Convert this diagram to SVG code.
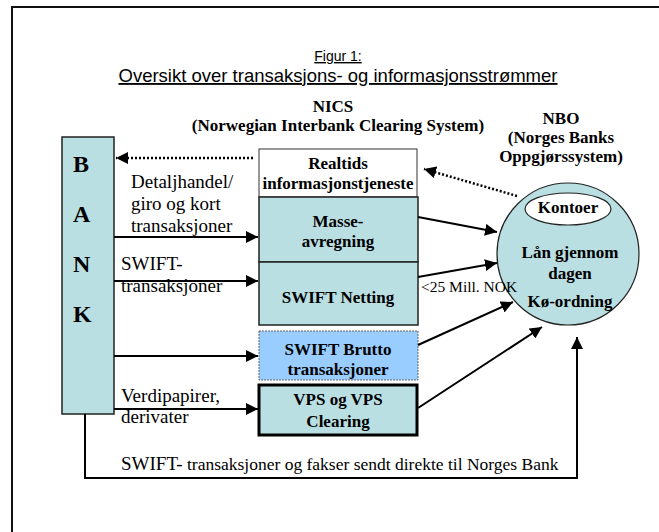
<svg xmlns="http://www.w3.org/2000/svg" width="659" height="532" viewBox="0 0 659 532">
<defs>
<marker id="ah" markerUnits="userSpaceOnUse" markerWidth="13" markerHeight="12" refX="12" refY="6" orient="auto"><path d="M0,0 L12,6 L0,12 z" fill="#000"/></marker>
</defs>
<style>
text{font-family:"Liberation Serif","Times New Roman",serif;fill:#000}
.a{font-family:"Liberation Sans",Arial,sans-serif;text-anchor:middle;text-decoration:underline}
.b{font-weight:bold;font-size:17px;text-anchor:middle}
.r{font-size:19px}
.bk{font-weight:bold;font-size:24px}
.box{fill:#BADFE3;stroke:#222;stroke-width:1.5}
.c{stroke:#000;stroke-width:2;fill:none;marker-end:url(#ah)}
.d{stroke:#000;stroke-width:2.5;fill:none;stroke-dasharray:2 2;marker-end:url(#ah)}
</style>
<rect x="12" y="7" width="680" height="560" fill="none" stroke="#111" stroke-width="2"/>
<g id="title">
<text class="a" x="338" y="61" font-size="14">Figur 1:</text>
<text class="a" x="338" y="82" font-size="18.5">Oversikt over transaksjons- og informasjonsstrømmer</text>
</g>
<g id="nics-label">
<text class="b" x="333" y="112" font-size="17.5">NICS</text>
<text class="b" x="338" y="131" font-size="17.5">(Norwegian Interbank Clearing System)</text>
</g>
<g id="nbo-label">
<text class="b" x="561" y="124" font-size="17.5">NBO</text>
<text class="b" x="561" y="143" font-size="17.5">(Norges Banks</text>
<text class="b" x="561" y="162" font-size="17.5">Oppgjørssystem)</text>
</g>
<g id="bank">
<rect class="box" x="62" y="137" width="52" height="277"/>
<text class="bk" x="73" y="172">B</text>
<text class="bk" x="73" y="222">A</text>
<text class="bk" x="73" y="272">N</text>
<text class="bk" x="73" y="322">K</text>
</g>
<g id="realtids">
<rect x="259" y="149" width="158" height="48" fill="#fff" stroke="#333" stroke-width="1"/>
<text class="b" x="338" y="169">Realtids</text>
<text class="b" x="338" y="189">informasjonstjeneste</text>
</g>
<g id="masse">
<rect class="box" x="259" y="197" width="159" height="65"/>
<text class="b" x="338" y="227">Masse-</text>
<text class="b" x="338" y="247">avregning</text>
</g>
<g id="netting">
<rect class="box" x="259" y="262" width="159" height="63"/>
<text class="b" x="338" y="303" font-size="15.5">SWIFT Netting</text>
</g>
<g id="brutto">
<rect x="259" y="331" width="159" height="49" fill="#99CCFF" stroke="#666" stroke-width="1" stroke-dasharray="2 1"/>
<text class="b" x="338" y="355">SWIFT Brutto</text>
<text class="b" x="338" y="375">transaksjoner</text>
</g>
<g id="vps">
<rect x="259" y="385" width="158" height="50" fill="#BADFE3" stroke="#000" stroke-width="3"/>
<text class="b" x="338" y="405">VPS og VPS</text>
<text class="b" x="338" y="427">Clearing</text>
</g>
<g id="nbo">
<circle cx="568" cy="254" r="71" fill="#BADFE3" stroke="#222" stroke-width="1.2"/>
<ellipse cx="568" cy="209" rx="43" ry="16" fill="#fff" stroke="#222" stroke-width="1.2"/>
<text class="b" x="568" y="213">Kontoer</text>
<text class="b" x="570" y="258">Lån gjennom</text>
<text class="b" x="570" y="279">dagen</text>
<text class="b" x="570" y="307">Kø-ordning</text>
</g>
<g id="connectors">
<path class="d" d="M253,158 L116,158"/>
<path class="d" d="M517,196 L424,169"/>
<path class="c" d="M114,237 L258,237"/>
<path class="c" d="M114,281 L258,281"/>
<path class="c" d="M114,356 L258,356"/>
<path class="c" d="M114,409 L258,409"/>
<path class="c" d="M418,217 L497,232"/>
<path class="c" d="M418,277 L497,263"/>
<path class="c" d="M418,345 L513,302"/>
<path class="c" d="M418,408 L542,327"/>
<path class="c" d="M85,414 L85,478 L577,478 L577,337"/>
</g>
<g id="labels">
<text class="r" x="131" y="188">Detaljhandel/</text>
<text class="r" x="131" y="210">giro og kort</text>
<text class="r" x="131" y="232">transaksjoner</text>
<text class="r" x="121" y="270">SWIFT-</text>
<text class="r" x="121" y="292">transaksjoner</text>
<text class="r" x="121" y="402">Verdipapirer,</text>
<text class="r" x="121" y="423">derivater</text>
<text x="421" y="292" font-size="15.5">&lt;25 Mill. NOK</text>
<text x="121" y="470" font-size="17.5"><tspan font-size="19">SWIFT-</tspan> transaksjoner og fakser sendt direkte til Norges Bank</text>
</g>
</svg>
